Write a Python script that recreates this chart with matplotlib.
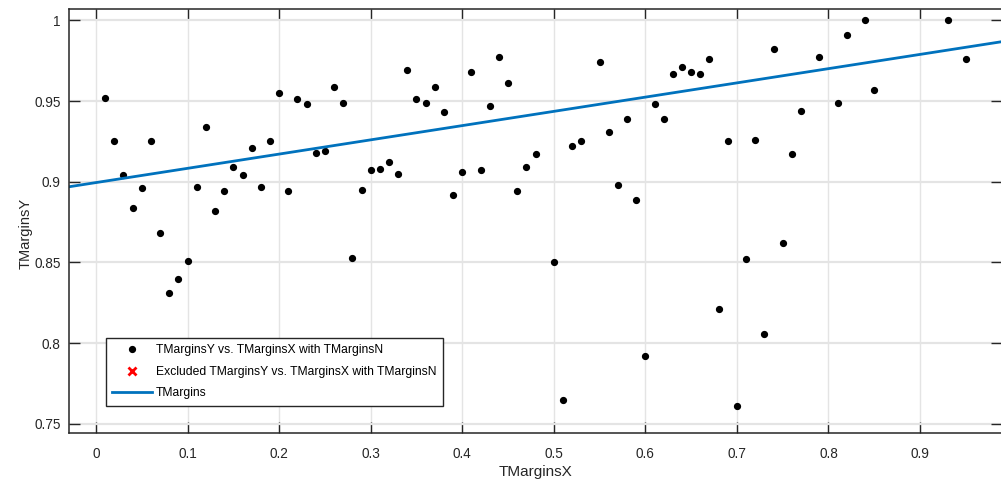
import numpy as np
import matplotlib
matplotlib.use("Agg")
import matplotlib.pyplot as plt

# data
tmargins_x = [0.01, 0.02, 0.03, 0.04, 0.05, 0.06, 0.07, 0.08, 0.09, 0.10,
              0.11, 0.12, 0.13, 0.14, 0.15, 0.16, 0.17, 0.18, 0.19, 0.20,
              0.21, 0.22, 0.23, 0.24, 0.25, 0.26, 0.27, 0.28, 0.29, 0.30,
              0.31, 0.32, 0.33, 0.34, 0.35, 0.36, 0.37, 0.38, 0.39, 0.40,
              0.41, 0.42, 0.43, 0.44, 0.45, 0.46, 0.47, 0.48, 0.50, 0.51,
              0.52, 0.53, 0.55, 0.56, 0.57, 0.58, 0.59, 0.60, 0.61, 0.62,
              0.63, 0.64, 0.65, 0.66, 0.67, 0.68, 0.69, 0.70, 0.71, 0.72,
              0.73, 0.74, 0.75, 0.76, 0.77, 0.79, 0.81, 0.82, 0.84, 0.85,
              0.93, 0.95]
tmargins_y = [0.952, 0.925, 0.904, 0.884, 0.896, 0.925, 0.868, 0.831, 0.840, 0.851,
              0.897, 0.934, 0.882, 0.894, 0.909, 0.904, 0.921, 0.897, 0.925, 0.955,
              0.894, 0.951, 0.948, 0.918, 0.919, 0.959, 0.949, 0.853, 0.895, 0.907,
              0.908, 0.912, 0.905, 0.969, 0.951, 0.949, 0.959, 0.943, 0.892, 0.906,
              0.968, 0.907, 0.947, 0.977, 0.961, 0.894, 0.909, 0.917, 0.850, 0.765,
              0.922, 0.925, 0.974, 0.931, 0.898, 0.939, 0.889, 0.792, 0.948, 0.939,
              0.967, 0.971, 0.968, 0.967, 0.976, 0.821, 0.925, 0.761, 0.852, 0.926,
              0.806, 0.982, 0.862, 0.917, 0.944, 0.977, 0.949, 0.991, 1.000, 0.957,
              1.000, 0.976]
excluded_x = []
excluded_y = []
fit_coef = [0.0882, 0.8995]   # slope, intercept of the linear fit "TMargins"

xlims = [-0.0295, 0.9895]
ylims = [0.7444, 1.007]
xticks = [0, 0.1, 0.2, 0.3, 0.4, 0.5, 0.6, 0.7, 0.8, 0.9]
yticks = [0.75, 0.8, 0.85, 0.9, 0.95, 1.0]
xtick_labels = ['0', '0.1', '0.2', '0.3', '0.4', '0.5', '0.6', '0.7', '0.8', '0.9']
ytick_labels = ['0.75', '0.8', '0.85', '0.9', '0.95', '1']

font = 'Liberation Sans'
dark = '#262626'

fig = plt.figure(figsize=(10.01, 4.86), dpi=100)
W, H = 1001, 486
ax = fig.add_axes([69 / W, 1 - 433 / H, (1002 - 69) / W, (433 - 9) / H])

ax.plot(tmargins_x, tmargins_y, 'o', color='black', markersize=4.2,
        label='TMarginsY vs. TMarginsX with TMarginsN')
ax.plot(excluded_x, excluded_y, 'x', color='red', markersize=6, markeredgewidth=2,
        label='Excluded TMarginsY vs. TMarginsX with TMarginsN')
xf = np.array(xlims)
ax.plot(xf, np.polyval(fit_coef, xf), '-', color='#0072BD', linewidth=2.0,
        label='TMargins')

ax.set_xlim(xlims)
ax.set_ylim(ylims)
ax.set_xticks(xticks)
ax.set_yticks(yticks)
ax.set_xticklabels(xtick_labels, family=font, fontsize=9.8, color=dark)
ax.set_yticklabels(ytick_labels, family=font, fontsize=9.8, color=dark)
ax.tick_params(axis='both', direction='in', length=8, width=1, color=dark,
               top=True, right=True)
ax.tick_params(axis='x', pad=10)
ax.tick_params(axis='y', pad=6)
for s in ax.spines.values():
    s.set_color(dark)
    s.set_linewidth(1.1)

ax.xaxis.grid(True, color='#e4e4e4', linewidth=1.0)
ax.yaxis.grid(True, color='#e4e4e4', linewidth=1.6)
ax.set_axisbelow(True)

ax.set_xlabel('TMarginsX', family=font, fontsize=11, color=dark)
ax.xaxis.set_label_coords(0.5, -0.075)
ax.set_ylabel('TMarginsY', family=font, fontsize=10.5, color=dark)
ax.yaxis.set_label_coords(-0.039, 0.47)

leg = ax.legend(loc='lower left', bbox_to_anchor=(0.0393, 0.0637), borderaxespad=0,
                prop={'family': font, 'size': 8.7}, fancybox=False, framealpha=1,
                edgecolor=dark, handlelength=3.3, handletextpad=0.33,
                labelspacing=0.78, borderpad=0.55, numpoints=1)
leg.get_frame().set_linewidth(1.0)

fig.savefig('out.png', dpi=100)
